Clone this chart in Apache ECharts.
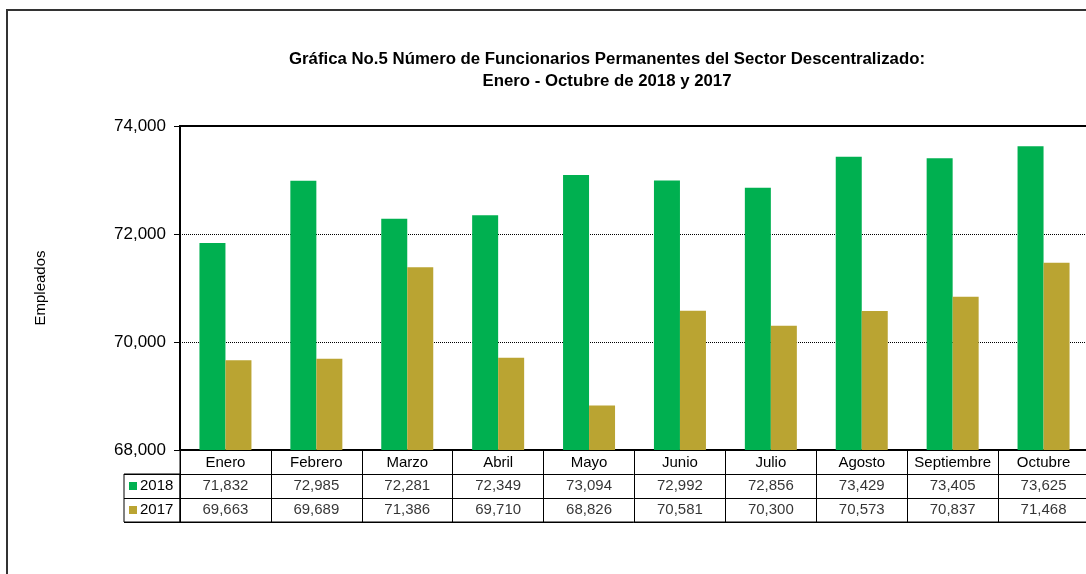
<!DOCTYPE html>
<html>
<head>
<meta charset="utf-8">
<title>Gráfica No.5</title>
<script src="https://cdn.jsdelivr.net/npm/echarts@6/dist/echarts.min.js"></script>
<style>
  html, body { margin: 0; padding: 0; background: #fff; }
  #main { width: 1086px; height: 574px; }
</style>
</head>
<body>
<div id="main"></div>
<script>
// datos de la grafica
const meses = ['Enero', 'Febrero', 'Marzo', 'Abril', 'Mayo', 'Junio', 'Julio', 'Agosto', 'Septiembre', 'Octubre']
const anios = ['2018', '2017']
const datos2018 = [71832, 72985, 72281, 72349, 73094, 72992, 72856, 73429, 73405, 73625]
const datos2017 = [69663, 69689, 71386, 69710, 68826, 70581, 70300, 70573, 70837, 71468]
const ejeY = [68000, 74000, 2000] // min, max, intervalo

const colores = { '2018': '#00B050', '2017': '#BAA432' }
const fuente = 'Liberation Sans, Arial, sans-serif'

function fmt(v) {
  return Number(v).toLocaleString('en-US')
}

// celdas de la tabla: [columna, fila, valor]
function celdasTabla() {
  let celdas = []
  datos2018.forEach((v, i) => celdas.push([i, '2018', v]))
  datos2017.forEach((v, i) => celdas.push([i, '2017', v]))
  return celdas
}

const chart = echarts.init(document.getElementById('main'), null, { renderer: 'canvas' })

const option = {
  backgroundColor: '#fff',
  animation: false,
  title: {
    text: 'Gráfica No.5 Número de Funcionarios Permanentes del Sector Descentralizado:\nEnero - Octubre de 2018 y 2017',
    left: 602,
    top: 43,
    textAlign: 'center',
    textStyle: {
      fontFamily: fuente,
      fontSize: 16.8,
      fontWeight: 'bold',
      color: '#000',
      lineHeight: 22
    }
  },
  graphic: [{
    // marco exterior del grafico
    type: 'rect',
    silent: true,
    shape: { x: 7, y: 10, width: 1200, height: 700 },
    style: { fill: 'none', stroke: '#333', lineWidth: 2 }
  }],
  grid: [
    // barras
    {
      left: 180, top: 126, width: 909, height: 324,
      show: true, borderColor: '#000', borderWidth: 2,
      outerBoundsMode: 'none', containLabel: false
    },
    // tabla de valores
    {
      left: 180, top: 450, width: 909, height: 72,
      show: true, borderColor: '#000', borderWidth: 1,
      outerBoundsMode: 'none', containLabel: false
    },
    // columna de leyenda
    {
      left: 124, top: 474, width: 56, height: 48,
      show: true, borderColor: '#000', borderWidth: 1,
      outerBoundsMode: 'none', containLabel: false
    }
  ],
  xAxis: [
    {
      type: 'category', gridIndex: 0, data: meses,
      axisLine: { lineStyle: { color: '#000', width: 2 } },
      axisTick: { show: false },
      axisLabel: { interval: 0, margin: 5, color: '#000', fontFamily: fuente, fontSize: 15 }
    },
    {
      type: 'category', gridIndex: 1, data: meses,
      axisLine: { show: false }, axisTick: { show: false }, axisLabel: { show: false },
      splitLine: { show: true, interval: 0, lineStyle: { color: '#000', width: 1 } }
    },
    {
      type: 'value', gridIndex: 2, min: 0, max: 1, show: false
    }
  ],
  yAxis: [
    {
      type: 'value', gridIndex: 0,
      min: ejeY[0], max: ejeY[1], interval: ejeY[2],
      name: 'Empleados',
      nameLocation: 'middle',
      nameGap: 132,
      nameTextStyle: { fontFamily: fuente, fontSize: 15, color: '#000' },
      axisLine: { show: true, lineStyle: { color: '#000', width: 2 } },
      axisTick: { show: true, length: 6, lineStyle: { color: '#000' } },
      axisLabel: { margin: 14, color: '#000', fontFamily: fuente, fontSize: 17, formatter: fmt },
      splitLine: { show: true, lineStyle: { color: '#000', width: 1, type: [1, 1] } }
    },
    {
      type: 'category', gridIndex: 1, data: [''].concat(anios), inverse: true,
      axisLine: { show: false }, axisTick: { show: false }, axisLabel: { show: false },
      splitLine: { show: true, interval: 0, lineStyle: { color: '#000', width: 1 } }
    },
    {
      type: 'category', gridIndex: 2, data: anios, inverse: true,
      axisLine: { show: false }, axisTick: { show: false },
      splitLine: { show: true, interval: 0, lineStyle: { color: '#000', width: 1 } },
      axisLabel: {
        inside: true, margin: 5, color: '#000', fontFamily: fuente, fontSize: 15,
        formatter: v => '{c' + v + '|}{t|' + v + '}',
        rich: {
          c2018: { width: 8, height: 8, backgroundColor: colores['2018'] },
          c2017: { width: 8, height: 8, backgroundColor: colores['2017'] },
          t: { fontFamily: fuente, fontSize: 15, color: '#000', padding: [0, 0, 0, 3] }
        }
      }
    }
  ],
  series: [
    {
      name: '2018', type: 'bar', xAxisIndex: 0, yAxisIndex: 0,
      data: datos2018, barWidth: 26, barGap: '0%',
      itemStyle: { color: colores['2018'] }
    },
    {
      name: '2017', type: 'bar', xAxisIndex: 0, yAxisIndex: 0,
      data: datos2017, barWidth: 26, barGap: '0%',
      itemStyle: { color: colores['2017'] }
    },
    {
      // valores escritos en la tabla
      type: 'scatter', xAxisIndex: 1, yAxisIndex: 1,
      data: celdasTabla(), symbolSize: 0, silent: true,
      label: {
        show: true, position: 'inside', color: '#000',
        fontFamily: fuente, fontSize: 15,
        formatter: p => fmt(p.value[2])
      }
    }
  ]
}

chart.setOption(option)
</script>
</body>
</html>
